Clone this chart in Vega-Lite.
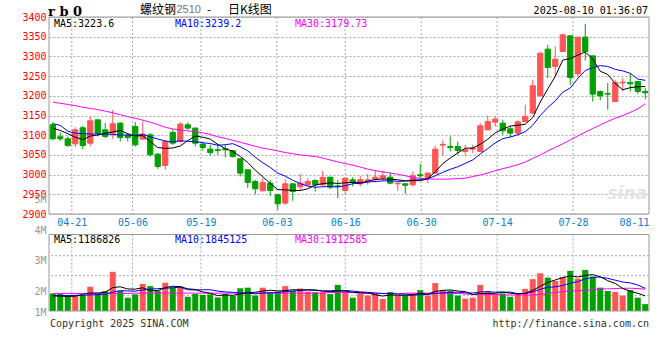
{
  "$schema": "https://vega.github.io/schema/vega-lite/v6.json",
  "width": 600,
  "height": 294,
  "autosize": {"type": "none"},
  "padding": {"left": 49, "top": 17, "right": 11, "bottom": 49},
  "background": "white",
  "config": {"view": {"stroke": null}, "axis": {"labelFont": "DejaVu Sans Mono"}, "text": {"font": "DejaVu Sans Mono"}},
  "datasets": {
    "one": [{"a": 1}],
    "k": [
      {"d":"04-16","o":3126.4,"h":3133.1,"l":3086.6,"c":3090.8,"v":1920000,"m5":3118,"m10":3129,"m30":3184,"vm5":1840000,"vm10":1850000,"vm30":1920000},
      {"d":"04-17","o":3095.9,"h":3106.9,"l":3085.8,"c":3090.8,"v":1920000,"m5":3112,"m10":3125,"m30":3181,"vm5":1830000,"vm10":1850000,"vm30":1920000},
      {"d":"04-18","o":3090.8,"h":3096.7,"l":3070.5,"c":3073.9,"v":1870000,"m5":3104,"m10":3110,"m30":3178,"vm5":1820000,"vm10":1850000,"vm30":1920000},
      {"d":"04-21","o":3078.1,"h":3120.4,"l":3069.7,"c":3113.7,"v":1870000,"m5":3095,"m10":3105,"m30":3175,"vm5":1830000,"vm10":1860000,"vm30":1920000},
      {"d":"04-22","o":3118.8,"h":3123.8,"l":3064.6,"c":3073.9,"v":1870000,"m5":3088.6,"m10":3104,"m30":3171,"vm5":1890000,"vm10":1860000,"vm30":1920000},
      {"d":"04-23","o":3079.8,"h":3147.5,"l":3071.4,"c":3136.5,"v":2140000,"m5":3097.8,"m10":3103,"m30":3168,"vm5":1934000,"vm10":1870000,"vm30":1920000},
      {"d":"04-24","o":3139.0,"h":3139.0,"l":3096.8,"c":3104.4,"v":1920000,"m5":3100.5,"m10":3103,"m30":3165,"vm5":1934000,"vm10":1880000,"vm30":1920000},
      {"d":"04-25","o":3113.7,"h":3130.6,"l":3092.5,"c":3096.8,"v":2000000,"m5":3105.1,"m10":3103,"m30":3161,"vm5":1960000,"vm10":1900000,"vm30":1920000},
      {"d":"04-28","o":3105.2,"h":3164.4,"l":3090.8,"c":3128.9,"v":2630000,"m5":3108.1,"m10":3102,"m30":3157,"vm5":2112000,"vm10":1960000,"vm30":1920000},
      {"d":"04-29","o":3130.6,"h":3133.1,"l":3084.1,"c":3094.2,"v":2000000,"m5":3112.2,"m10":3100.4,"m30":3152,"vm5":2138000,"vm10":2014000,"vm30":1920000},
      {"d":"04-30","o":3099.3,"h":3105.2,"l":3084.1,"c":3094.2,"v":1780000,"m5":3103.7,"m10":3100.7,"m30":3147,"vm5":2066000,"vm10":2000000,"vm30":1920000},
      {"d":"05-06","o":3122.1,"h":3133.1,"l":3071.4,"c":3075.6,"v":1890000,"m5":3097.9,"m10":3099.2,"m30":3143,"vm5":2060000,"vm10":1997000,"vm30":1930000},
      {"d":"05-07","o":3090.0,"h":3134.8,"l":3088.3,"c":3102.7,"v":2230000,"m5":3099.1,"m10":3102.1,"m30":3138,"vm5":2106000,"vm10":2033000,"vm30":1930000},
      {"d":"05-08","o":3101.0,"h":3105.2,"l":3046.0,"c":3050.2,"v":2160000,"m5":3083.4,"m10":3095.7,"m30":3133,"vm5":2012000,"vm10":2062000,"vm30":1930000},
      {"d":"05-09","o":3051.9,"h":3054.5,"l":3014.7,"c":3020.6,"v":2010000,"m5":3068.7,"m10":3090.4,"m30":3127,"vm5":2014000,"vm10":2076000,"vm30":1930000},
      {"d":"05-12","o":3023.2,"h":3088.3,"l":3012.2,"c":3084.1,"v":2270000,"m5":3066.6,"m10":3085.2,"m30":3120,"vm5":2112000,"vm10":2089000,"vm30":1930000},
      {"d":"05-13","o":3106.9,"h":3115.4,"l":3075.6,"c":3079.8,"v":2110000,"m5":3067.5,"m10":3082.7,"m30":3116,"vm5":2156000,"vm10":2108000,"vm30":1930000},
      {"d":"05-14","o":3084.1,"h":3133.1,"l":3081.6,"c":3128.1,"v":2160000,"m5":3072.6,"m10":3085.8,"m30":3113,"vm5":2142000,"vm10":2124000,"vm30":1930000},
      {"d":"05-15","o":3126.4,"h":3132.3,"l":3113.7,"c":3117.9,"v":1810000,"m5":3086.1,"m10":3084.7,"m30":3111,"vm5":2072000,"vm10":2042000,"vm30":1930000},
      {"d":"05-16","o":3117.9,"h":3120.0,"l":3071.4,"c":3079.8,"v":1900000,"m5":3097.9,"m10":3083.3,"m30":3109,"vm5":2050000,"vm10":2032000,"vm30":1930000},
      {"d":"05-19","o":3077.3,"h":3084.1,"l":3061.2,"c":3068.8,"v":1870000,"m5":3094.9,"m10":3080.8,"m30":3106,"vm5":1970000,"vm10":2041000,"vm30":1930000},
      {"d":"05-20","o":3064.6,"h":3075.6,"l":3048.5,"c":3056.1,"v":1890000,"m5":3090.1,"m10":3078.8,"m30":3102,"vm5":1926000,"vm10":2041000,"vm30":1930000},
      {"d":"05-21","o":3063.0,"h":3075.6,"l":3050.2,"c":3061.0,"v":1790000,"m5":3076.7,"m10":3074.6,"m30":3096,"vm5":1852000,"vm10":1997000,"vm30":1930000},
      {"d":"05-22","o":3065.5,"h":3075.6,"l":3043.5,"c":3063.0,"v":1900000,"m5":3065.7,"m10":3075.9,"m30":3092,"vm5":1870000,"vm10":1971000,"vm30":1930000},
      {"d":"05-23","o":3060.4,"h":3062.9,"l":3043.5,"c":3046.0,"v":1840000,"m5":3059.0,"m10":3078.5,"m30":3087,"vm5":1858000,"vm10":1954000,"vm30":1930000},
      {"d":"05-26","o":3040.1,"h":3041.8,"l":2995.2,"c":3003.7,"v":2090000,"m5":3046.0,"m10":3070.4,"m30":3082,"vm5":1902000,"vm10":1936000,"vm30":1930000},
      {"d":"05-27","o":3012.2,"h":3012.2,"l":2965.6,"c":2980.0,"v":2110000,"m5":3030.7,"m10":3060.4,"m30":3077,"vm5":1946000,"vm10":1936000,"vm30":1930000},
      {"d":"05-28","o":2982.5,"h":2986.8,"l":2950.4,"c":2964.0,"v":1850000,"m5":3011.3,"m10":3044.0,"m30":3072,"vm5":1958000,"vm10":1905000,"vm30":1930000},
      {"d":"05-29","o":2958.9,"h":2991.0,"l":2957.2,"c":2980.0,"v":2110000,"m5":2994.7,"m10":3030.2,"m30":3067,"vm5":2000000,"vm10":1935000,"vm30":1930000},
      {"d":"05-30","o":2978.3,"h":2986.8,"l":2946.2,"c":2959.7,"v":1960000,"m5":2977.5,"m10":3018.2,"m30":3064,"vm5":2024000,"vm10":1941000,"vm30":1930000},
      {"d":"06-03","o":2948.7,"h":2951.2,"l":2910.6,"c":2925.9,"v":1980000,"m5":2961.9,"m10":3003.9,"m30":3060,"vm5":2002000,"vm10":1952000,"vm30":1930000},
      {"d":"06-04","o":2927.6,"h":2988.5,"l":2923.3,"c":2976.6,"v":2160000,"m5":2961.2,"m10":2996.0,"m30":3056,"vm5":2012000,"vm10":1979000,"vm30":1930000},
      {"d":"06-05","o":2976.6,"h":2978.3,"l":2933.5,"c":2957.2,"v":2000000,"m5":2959.9,"m10":2985.6,"m30":3053,"vm5":2042000,"vm10":2000000,"vm30":1930000},
      {"d":"06-06","o":2969.0,"h":3002.0,"l":2961.0,"c":2978.3,"v":2080000,"m5":2959.5,"m10":2977.1,"m30":3050,"vm5":2036000,"vm10":2018000,"vm30":1930000},
      {"d":"06-09","o":2974.0,"h":2991.0,"l":2969.8,"c":2982.5,"v":1980000,"m5":2964.1,"m10":2970.8,"m30":3048,"vm5":2040000,"vm10":2032000,"vm30":1930000},
      {"d":"06-10","o":2985.0,"h":2988.5,"l":2957.2,"c":2974.0,"v":1960000,"m5":2973.7,"m10":2967.8,"m30":3046,"vm5":2036000,"vm10":2019000,"vm30":1930000},
      {"d":"06-11","o":2974.0,"h":3009.6,"l":2969.8,"c":2992.7,"v":1960000,"m5":2976.9,"m10":2969.1,"m30":3042,"vm5":1996000,"vm10":2004000,"vm30":1930000},
      {"d":"06-12","o":2993.5,"h":2993.5,"l":2963.1,"c":2968.2,"v":1900000,"m5":2979.1,"m10":2969.5,"m30":3037,"vm5":1976000,"vm10":2009000,"vm30":1950000},
      {"d":"06-13","o":2971.5,"h":2986.8,"l":2940.2,"c":2969.9,"v":2200000,"m5":2977.5,"m10":2968.5,"m30":3032,"vm5":2000000,"vm10":2018000,"vm30":1950000},
      {"d":"06-16","o":2959.7,"h":2992.7,"l":2950.4,"c":2991.0,"v":1950000,"m5":2979.2,"m10":2971.6,"m30":3028,"vm5":1994000,"vm10":2017000,"vm30":1950000},
      {"d":"06-17","o":2986.8,"h":2993.5,"l":2969.8,"c":2980.0,"v":1780000,"m5":2980.4,"m10":2977.0,"m30":3024,"vm5":1958000,"vm10":1997000,"vm30":1950000},
      {"d":"06-18","o":2976.6,"h":2997.0,"l":2969.8,"c":2986.8,"v":1900000,"m5":2979.2,"m10":2978.1,"m30":3019,"vm5":1946000,"vm10":1971000,"vm30":1920000},
      {"d":"06-19","o":2985.0,"h":3002.0,"l":2974.0,"c":2986.8,"v":1850000,"m5":2982.9,"m10":2981.0,"m30":3014,"vm5":1936000,"vm10":1956000,"vm30":1920000},
      {"d":"06-20","o":2988.5,"h":3012.2,"l":2980.0,"c":2993.5,"v":1900000,"m5":2987.6,"m10":2982.5,"m30":3010,"vm5":1876000,"vm10":1938000,"vm30":1920000},
      {"d":"06-23","o":2991.0,"h":3009.6,"l":2984.0,"c":2997.0,"v":1740000,"m5":2988.8,"m10":2984.0,"m30":3007,"vm5":1834000,"vm10":1914000,"vm30":1920000},
      {"d":"06-24","o":2993.5,"h":3005.4,"l":2975.8,"c":2978.3,"v":1970000,"m5":2988.5,"m10":2984.4,"m30":3004,"vm5":1872000,"vm10":1915000,"vm30":1920000},
      {"d":"06-25","o":2976.6,"h":2982.5,"l":2958.9,"c":2978.3,"v":1840000,"m5":2986.8,"m10":2983.0,"m30":3001,"vm5":1860000,"vm10":1903000,"vm30":1900000},
      {"d":"06-26","o":2976.6,"h":2978.3,"l":2951.0,"c":2973.0,"v":1850000,"m5":2984.0,"m10":2983.5,"m30":2997,"vm5":1860000,"vm10":1898000,"vm30":1930000},
      {"d":"06-27","o":2974.1,"h":3008.0,"l":2969.9,"c":2997.0,"v":1930000,"m5":2984.7,"m10":2986.2,"m30":2993,"vm5":1866000,"vm10":1871000,"vm30":1930000},
      {"d":"06-30","o":2999.5,"h":3027.4,"l":2991.0,"c":2997.0,"v":2030000,"m5":2984.7,"m10":2986.8,"m30":2990,"vm5":1924000,"vm10":1879000,"vm30":1930000},
      {"d":"07-01","o":2992.7,"h":3005.4,"l":2978.4,"c":3003.7,"v":1850000,"m5":2989.8,"m10":2989.1,"m30":2989,"vm5":1900000,"vm10":1886000,"vm30":1930000},
      {"d":"07-02","o":3003.7,"h":3073.1,"l":3002.0,"c":3064.6,"v":2260000,"m5":3007.1,"m10":2996.9,"m30":2988.5,"vm5":1984000,"vm10":1922000,"vm30":1920000},
      {"d":"07-03","o":3074.8,"h":3086.6,"l":3047.7,"c":3076.5,"v":2030000,"m5":3027.8,"m10":3005.9,"m30":2988.5,"vm5":2020000,"vm10":1940000,"vm30":1920000},
      {"d":"07-04","o":3071.4,"h":3096.8,"l":3058.7,"c":3068.9,"v":2010000,"m5":3042.1,"m10":3013.4,"m30":2989,"vm5":2036000,"vm10":1951000,"vm30":1920000},
      {"d":"07-07","o":3071.4,"h":3084.1,"l":3050.3,"c":3061.3,"v":1850000,"m5":3055.0,"m10":3019.9,"m30":2990,"vm5":2000000,"vm10":1962000,"vm30":1920000},
      {"d":"07-08","o":3058.7,"h":3075.6,"l":3047.7,"c":3063.0,"v":1750000,"m5":3066.9,"m10":3028.3,"m30":2991,"vm5":1980000,"vm10":1940000,"vm30":1900000},
      {"d":"07-09","o":3064.6,"h":3075.6,"l":3054.5,"c":3067.2,"v":1780000,"m5":3067.4,"m10":3037.2,"m30":2995,"vm5":1884000,"vm10":1934000,"vm30":1890000},
      {"d":"07-10","o":3058.7,"h":3130.6,"l":3056.2,"c":3123.9,"v":2200000,"m5":3076.9,"m10":3052.3,"m30":2999,"vm5":1918000,"vm10":1969000,"vm30":1890000},
      {"d":"07-11","o":3113.7,"h":3149.2,"l":3112.0,"c":3134.8,"v":2000000,"m5":3090.0,"m10":3066.1,"m30":3004,"vm5":1916000,"vm10":1976000,"vm30":1890000},
      {"d":"07-14","o":3133.1,"h":3147.6,"l":3122.2,"c":3140.8,"v":1890000,"m5":3105.9,"m10":3080.5,"m30":3010,"vm5":1924000,"vm10":1962000,"vm30":1890000},
      {"d":"07-15","o":3130.6,"h":3139.0,"l":3101.0,"c":3111.2,"v":1920000,"m5":3115.6,"m10":3091.2,"m30":3015,"vm5":1958000,"vm10":1969000,"vm30":1870000},
      {"d":"07-16","o":3116.3,"h":3122.2,"l":3095.1,"c":3105.3,"v":1810000,"m5":3123.2,"m10":3095.3,"m30":3020,"vm5":1964000,"vm10":1924000,"vm30":1870000},
      {"d":"07-17","o":3105.3,"h":3139.0,"l":3101.0,"c":3134.0,"v":1920000,"m5":3125.2,"m10":3101.0,"m30":3025,"vm5":1908000,"vm10":1913000,"vm30":1870000},
      {"d":"07-18","o":3134.8,"h":3177.2,"l":3132.3,"c":3147.6,"v":2070000,"m5":3127.8,"m10":3108.9,"m30":3032,"vm5":1922000,"vm10":1919000,"vm30":1870000},
      {"d":"07-21","o":3156.0,"h":3240.6,"l":3154.3,"c":3225.4,"v":2390000,"m5":3144.7,"m10":3125.3,"m30":3041,"vm5":2022000,"vm10":1973000,"vm30":1870000},
      {"d":"07-22","o":3200.0,"h":3310.0,"l":3198.3,"c":3308.3,"v":2580000,"m5":3184.1,"m10":3149.9,"m30":3050,"vm5":2154000,"vm10":2056000,"vm30":1890000},
      {"d":"07-23","o":3318.5,"h":3329.4,"l":3244.8,"c":3271.9,"v":2440000,"m5":3217.4,"m10":3170.3,"m30":3060,"vm5":2280000,"vm10":2122000,"vm30":1920000},
      {"d":"07-24","o":3274.5,"h":3325.2,"l":3249.1,"c":3293.1,"v":2330000,"m5":3249.3,"m10":3187.2,"m30":3069,"vm5":2362000,"vm10":2135000,"vm30":1950000},
      {"d":"07-25","o":3312.5,"h":3357.4,"l":3310.8,"c":3354.8,"v":2460000,"m5":3290.7,"m10":3209.2,"m30":3078,"vm5":2440000,"vm10":2181000,"vm30":1980000},
      {"d":"07-28","o":3352.3,"h":3352.3,"l":3227.9,"c":3246.5,"v":2660000,"m5":3294.9,"m10":3219.8,"m30":3088,"vm5":2494000,"vm10":2258000,"vm30":2000000},
      {"d":"07-29","o":3255.8,"h":3348.9,"l":3247.4,"c":3348.9,"v":2410000,"m5":3303.0,"m10":3243.6,"m30":3098,"vm5":2460000,"vm10":2307000,"vm30":2010000},
      {"d":"07-30","o":3348.9,"h":3382.7,"l":3289.7,"c":3312.5,"v":2690000,"m5":3311.2,"m10":3264.3,"m30":3108,"vm5":2510000,"vm10":2395000,"vm30":2020000},
      {"d":"07-31","o":3301.5,"h":3301.5,"l":3185.6,"c":3204.2,"v":2470000,"m5":3293.4,"m10":3271.3,"m30":3117,"vm5":2538000,"vm10":2450000,"vm30":2040000},
      {"d":"08-01","o":3211.0,"h":3213.5,"l":3188.2,"c":3200.0,"v":2110000,"m5":3262.4,"m10":3276.6,"m30":3126,"vm5":2468000,"vm10":2454000,"vm30":2070000},
      {"d":"08-04","o":3205.9,"h":3232.2,"l":3164.5,"c":3204.2,"v":2000000,"m5":3254.0,"m10":3274.4,"m30":3135,"vm5":2336000,"vm10":2415000,"vm30":2070000},
      {"d":"08-05","o":3185.6,"h":3240.6,"l":3185.6,"c":3233.9,"v":1970000,"m5":3231.0,"m10":3267.0,"m30":3143,"vm5":2248000,"vm10":2354000,"vm30":2080000},
      {"d":"08-06","o":3232.8,"h":3244.8,"l":3211.0,"c":3234.7,"v":1850000,"m5":3215.4,"m10":3263.3,"m30":3150,"vm5":2080000,"vm10":2295000,"vm30":2090000},
      {"d":"08-07","o":3233.9,"h":3257.5,"l":3211.0,"c":3230.5,"v":2030000,"m5":3220.7,"m10":3257.0,"m30":3158,"vm5":1992000,"vm10":2265000,"vm30":2090000},
      {"d":"08-08","o":3236.4,"h":3236.4,"l":3205.1,"c":3211.0,"v":1780000,"m5":3222.9,"m10":3242.6,"m30":3167,"vm5":1926000,"vm10":2197000,"vm30":2080000},
      {"d":"08-11","o":3211.0,"h":3219.5,"l":3191.6,"c":3207.6,"v":1570000,"m5":3223.6,"m10":3239.2,"m30":3179.7,"vm5":1840000,"vm10":2088000,"vm30":2060000}
    ]
  },
  "layer": [
    {
      "data": {"name": "k"},
      "layer": [
        {
          "mark": {"type": "rule", "stroke": "#a8a8a8", "strokeWidth": 1, "strokeDash": [2, 2]},
          "encoding": {
            "x": {"field": "d", "type": "ordinal", "scale": {"type": "point", "padding": 0},
              "axis": {"orient": "bottom", "offset": -97, "values": ["04-21","05-06","05-19","06-03","06-16","06-30","07-14","07-28","08-11"],
                "domain": false, "ticks": false, "grid": false, "labelAngle": 0, "labelColor": "#0a7fd0", "labelFontSize": 10, "labelPadding": 3, "labelFlush": true, "title": null}},
            "y": {"datum": 3400, "type": "quantitative", "scale": {"domain": [2900, 3400], "range": [197, 0], "nice": false, "zero": false},
              "axis": {"orient": "left", "values": [2900,2950,3000,3050,3100,3150,3200,3250,3300,3350,3400], "format": "d", "domain": false, "ticks": false,
                "grid": true, "gridColor": "#a8a8a8", "gridDash": [2, 2], "labelColor": "#ff0000", "labelFontSize": 10, "labelPadding": 3, "title": null}},
            "y2": {"datum": 2900},
            "strokeOpacity": {"condition": {"test": "indexof(['04-21','05-06','05-19','06-03','06-16','06-30','07-14','07-28'], datum.d) >= 0", "value": 1}, "value": 0}
          }
        }
      ]
    },
    {
      "data": {"name": "k"},
      "layer": [
        {
          "mark": {"type": "rule", "stroke": "#a8a8a8", "strokeWidth": 1, "strokeDash": [2, 2]},
          "encoding": {
            "x": {"field": "d", "type": "ordinal", "scale": {"type": "point", "padding": 0}, "axis": null},
            "y": {"datum": 3852000, "type": "quantitative", "scale": {"domain": [1000000, 5000000], "range": [304.5, 182.5], "nice": false, "zero": false},
              "axis": {"orient": "left", "values": [5000000, 4000000, 3000000, 2000000, 1310000], "labelExpr": "datum.value < 1500000 ? '1M' : format(datum.value / 1000000, 'd') + 'M'",
                "domain": false, "ticks": false, "grid": false, "labelColor": "#999999", "labelFontSize": 10, "labelPadding": 3, "title": null}},
            "y2": {"datum": 1344000},
            "strokeOpacity": {"condition": {"test": "indexof(['04-21','05-06','05-19','06-03','06-16','06-30','07-14','07-28'], datum.d) >= 0", "value": 1}, "value": 0}
          }
        },
        {
          "data": {"values": [{"g": 3157000}, {"g": 2502000}, {"g": 1846000}]},
          "mark": {"type": "rule", "stroke": "#a8a8a8", "strokeWidth": 1, "strokeDash": [2, 2]},
          "encoding": {"y": {"field": "g", "type": "quantitative"}}
        }
      ]
    },
    {
      "data": {"name": "k"},
      "layer": [
        {
          "mark": {"type": "rule", "strokeWidth": 1},
          "encoding": {
            "x": {"field": "d", "type": "ordinal", "scale": {"type": "band", "paddingInner": 0, "paddingOuter": 0}, "axis": null},
            "y": {"field": "l", "type": "quantitative", "scale": {"domain": [2900, 3400], "range": [197, 0], "nice": false, "zero": false}, "axis": null},
            "y2": {"field": "h"},
            "color": {"condition": {"test": "datum.c >= datum.o", "value": "#ff5555"}, "value": "#00a000"}
          }
        },
        {
          "mark": {"type": "bar", "width": {"band": 0.7}, "strokeWidth": 1},
          "encoding": {
            "x": {"field": "d", "type": "ordinal"},
            "y": {"field": "o", "type": "quantitative"},
            "y2": {"field": "c"},
            "color": {"condition": {"test": "datum.c >= datum.o", "value": "#ff5555"}, "value": "#00a000"},
            "stroke": {"condition": {"test": "datum.c >= datum.o", "value": "#ff5555"}, "value": "#00a000"}
          }
        },
        {"mark": {"type": "line", "color": "#ff00ff", "strokeWidth": 1}, "encoding": {"x": {"field": "d", "type": "ordinal"}, "y": {"field": "m30", "type": "quantitative"}}},
        {"mark": {"type": "line", "color": "#0000ff", "strokeWidth": 1}, "encoding": {"x": {"field": "d", "type": "ordinal"}, "y": {"field": "m10", "type": "quantitative"}}},
        {"mark": {"type": "line", "color": "#000000", "strokeWidth": 1}, "encoding": {"x": {"field": "d", "type": "ordinal"}, "y": {"field": "m5", "type": "quantitative"}}},
        {"data": {"name": "one"}, "mark": {"type": "rule", "stroke": "#999999", "strokeWidth": 1}, "encoding": {"y": {"datum": 3400}}},
        {"data": {"name": "one"}, "mark": {"type": "rule", "stroke": "#999999", "strokeWidth": 1}, "encoding": {"y": {"datum": 2900}}},
        {"data": {"name": "one"}, "mark": {"type": "rule", "stroke": "#999999", "strokeWidth": 1}, "encoding": {"x": {"datum": "04-16", "type": "ordinal", "bandPosition": 0}, "y": {"datum": 3400}, "y2": {"datum": 2900}}},
        {"data": {"name": "one"}, "mark": {"type": "rule", "stroke": "#999999", "strokeWidth": 1}, "encoding": {"x": {"datum": "08-11", "type": "ordinal", "bandPosition": 1}, "y": {"datum": 3400}, "y2": {"datum": 2900}}},
        {"data": {"name": "one"}, "mark": {"type": "text", "align": "left", "baseline": "middle", "font": "DejaVu Serif", "fontWeight": "bold", "fontSize": 13, "dx": -1, "dy": -5, "color": "#000000"},
          "encoding": {"x": {"datum": "04-16", "type": "ordinal", "bandPosition": 0}, "y": {"datum": 3400}, "text": {"value": "r b 0"}}},
        {"data": {"name": "one"}, "mark": {"type": "text", "align": "left", "baseline": "middle", "font": "Noto Sans CJK SC", "fontSize": 12, "dx": 91, "dy": -7, "color": "#000000"},
          "encoding": {"x": {"datum": "04-16", "type": "ordinal", "bandPosition": 0}, "y": {"datum": 3400}, "text": {"value": "螺纹钢"}}},
        {"data": {"name": "one"}, "mark": {"type": "text", "align": "left", "baseline": "middle", "font": "Liberation Sans", "fontSize": 11, "dx": 127.5, "dy": -7, "color": "#777777"},
          "encoding": {"x": {"datum": "04-16", "type": "ordinal", "bandPosition": 0}, "y": {"datum": 3400}, "text": {"value": "2510"}}},
        {"data": {"name": "one"}, "mark": {"type": "text", "align": "left", "baseline": "middle", "font": "Noto Sans CJK SC", "fontSize": 12, "dx": 158, "dy": -7, "color": "#000000"},
          "encoding": {"x": {"datum": "04-16", "type": "ordinal", "bandPosition": 0}, "y": {"datum": 3400}, "text": {"value": "-"}}},
        {"data": {"name": "one"}, "mark": {"type": "text", "align": "left", "baseline": "middle", "font": "Noto Sans CJK SC", "fontSize": 12, "dx": 179, "dy": -7, "color": "#000000"},
          "encoding": {"x": {"datum": "04-16", "type": "ordinal", "bandPosition": 0}, "y": {"datum": 3400}, "text": {"value": "日K线图"}}},
        {"data": {"name": "one"}, "mark": {"type": "text", "align": "right", "baseline": "middle", "fontSize": 10, "dx": -1, "dy": -6, "color": "#000000"},
          "encoding": {"x": {"datum": "08-11", "type": "ordinal", "bandPosition": 1}, "y": {"datum": 3400}, "text": {"value": "2025-08-10 01:36:07"}}},
        {"data": {"name": "one"}, "mark": {"type": "text", "align": "left", "baseline": "middle", "fontSize": 10, "dx": 5, "dy": 6.5, "color": "#000000"},
          "encoding": {"x": {"datum": "04-16", "type": "ordinal", "bandPosition": 0}, "y": {"datum": 3400}, "text": {"value": "MA5:3223.6"}}},
        {"data": {"name": "one"}, "mark": {"type": "text", "align": "left", "baseline": "middle", "fontSize": 10, "dx": 126, "dy": 6.5, "color": "#0000ff"},
          "encoding": {"x": {"datum": "04-16", "type": "ordinal", "bandPosition": 0}, "y": {"datum": 3400}, "text": {"value": "MA10:3239.2"}}},
        {"data": {"name": "one"}, "mark": {"type": "text", "align": "left", "baseline": "middle", "fontSize": 10, "dx": 246, "dy": 6.5, "color": "#ff00ff"},
          "encoding": {"x": {"datum": "04-16", "type": "ordinal", "bandPosition": 0}, "y": {"datum": 3400}, "text": {"value": "MA30:3179.73"}}},
        {"data": {"name": "one"}, "mark": {"type": "text", "align": "right", "baseline": "middle", "font": "DejaVu Sans", "fontStyle": "italic", "fontWeight": "bold", "fontSize": 17, "dx": -2, "color": "#e3e3e3"},
          "encoding": {"x": {"datum": "08-11", "type": "ordinal", "bandPosition": 1}, "y": {"datum": 2950}, "text": {"value": "sina"}}}
      ]
    },
    {
      "data": {"name": "k"},
      "layer": [
        {
          "mark": {"type": "bar", "width": {"band": 0.8}},
          "encoding": {
            "x": {"field": "d", "type": "ordinal", "scale": {"type": "band", "paddingInner": 0, "paddingOuter": 0}, "axis": null},
            "y": {"field": "v", "type": "quantitative", "scale": {"domain": [1000000, 5000000], "range": [304.5, 182.5], "nice": false, "zero": false}, "axis": null},
            "y2": {"datum": 1344000},
            "color": {"condition": {"test": "datum.c >= datum.o", "value": "#ff5555"}, "value": "#00a000"}
          }
        },
        {"mark": {"type": "line", "color": "#ff00ff", "strokeWidth": 1}, "encoding": {"x": {"field": "d", "type": "ordinal"}, "y": {"field": "vm30", "type": "quantitative"}}},
        {"mark": {"type": "line", "color": "#0000ff", "strokeWidth": 1}, "encoding": {"x": {"field": "d", "type": "ordinal"}, "y": {"field": "vm10", "type": "quantitative"}}},
        {"mark": {"type": "line", "color": "#000000", "strokeWidth": 1}, "encoding": {"x": {"field": "d", "type": "ordinal"}, "y": {"field": "vm5", "type": "quantitative"}}},
        {"data": {"name": "one"}, "mark": {"type": "rule", "stroke": "#999999", "strokeWidth": 1}, "encoding": {"y": {"datum": 3852000}}},
        {"data": {"name": "one"}, "mark": {"type": "rule", "stroke": "#999999", "strokeWidth": 1}, "encoding": {"y": {"datum": 1344000}}},
        {"data": {"name": "one"}, "mark": {"type": "rule", "stroke": "#999999", "strokeWidth": 1}, "encoding": {"x": {"datum": "04-16", "type": "ordinal", "bandPosition": 0}, "y": {"datum": 3852000}, "y2": {"datum": 1344000}}},
        {"data": {"name": "one"}, "mark": {"type": "rule", "stroke": "#999999", "strokeWidth": 1}, "encoding": {"x": {"datum": "08-11", "type": "ordinal", "bandPosition": 1}, "y": {"datum": 3852000}, "y2": {"datum": 1344000}}},
        {"data": {"name": "one"}, "mark": {"type": "text", "align": "left", "baseline": "middle", "fontSize": 10, "dx": 5, "dy": 5, "color": "#000000"},
          "encoding": {"x": {"datum": "04-16", "type": "ordinal", "bandPosition": 0}, "y": {"datum": 3852000}, "text": {"value": "MA5:1186826"}}},
        {"data": {"name": "one"}, "mark": {"type": "text", "align": "left", "baseline": "middle", "fontSize": 10, "dx": 126, "dy": 5, "color": "#0000ff"},
          "encoding": {"x": {"datum": "04-16", "type": "ordinal", "bandPosition": 0}, "y": {"datum": 3852000}, "text": {"value": "MA10:1845125"}}},
        {"data": {"name": "one"}, "mark": {"type": "text", "align": "left", "baseline": "middle", "fontSize": 10, "dx": 246, "dy": 5, "color": "#ff00ff"},
          "encoding": {"x": {"datum": "04-16", "type": "ordinal", "bandPosition": 0}, "y": {"datum": 3852000}, "text": {"value": "MA30:1912585"}}},
        {"data": {"name": "one"}, "mark": {"type": "text", "align": "left", "baseline": "middle", "fontSize": 10, "dx": 1, "dy": 12.5, "color": "#333333"},
          "encoding": {"x": {"datum": "04-16", "type": "ordinal", "bandPosition": 0}, "y": {"datum": 1344000}, "text": {"value": "Copyright 2025 SINA.COM"}}},
        {"data": {"name": "one"}, "mark": {"type": "text", "align": "right", "baseline": "middle", "fontSize": 10, "dx": 0, "dy": 12.5, "color": "#333333"},
          "encoding": {"x": {"datum": "08-11", "type": "ordinal", "bandPosition": 1}, "y": {"datum": 1344000}, "text": {"value": "http://finance.sina.com.cn"}}}
      ]
    }
  ],
  "resolve": {"scale": {"x": "independent", "y": "independent"}, "axis": {"x": "independent", "y": "independent"}}
}
